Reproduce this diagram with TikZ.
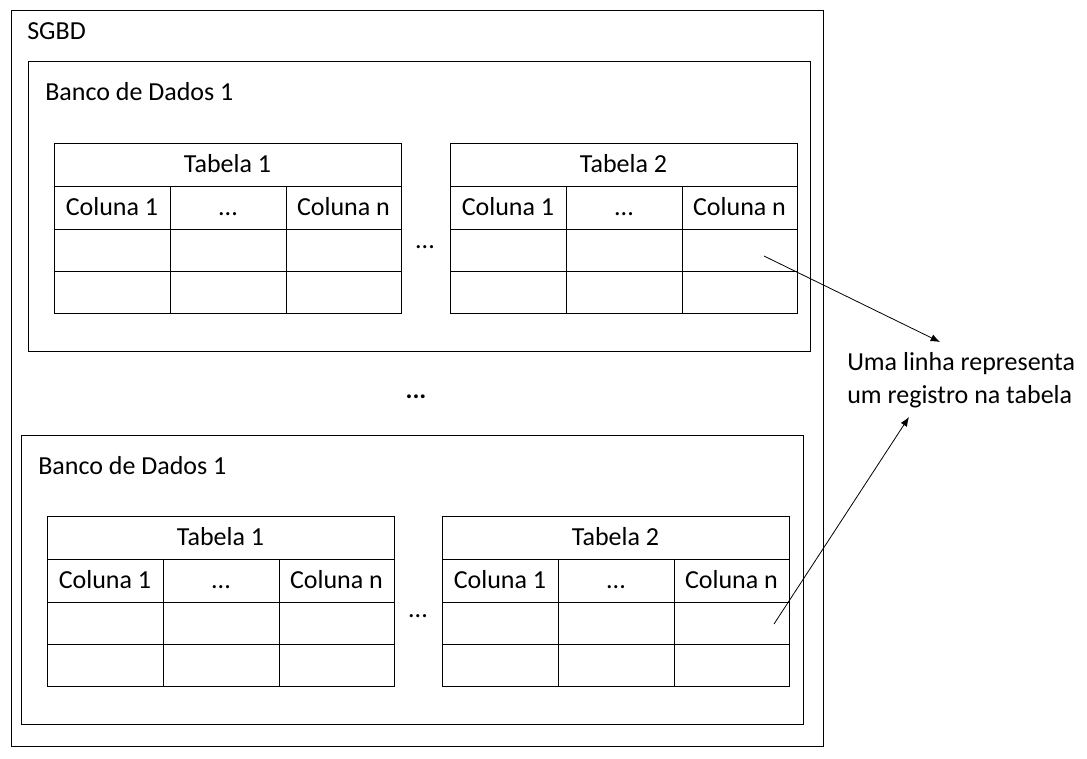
\documentclass[tikz,border=0pt]{standalone}
\usepackage{fontspec}
\setmainfont{Carlito}
\usetikzlibrary{arrows.meta}

\tikzset{
  box/.style={draw, line width=0.75pt},
  label/.style={anchor=west, inner sep=0pt},
  cell/.style={inner sep=0pt, text height=12.5pt, text depth=0pt},
  gap/.style={inner sep=0pt, anchor=base},
  pointer/.style={-{Latex[length=7pt,width=5.5pt]}, line width=0.6pt}
}

% one table: x, y (top left), name, title
\newcommand{\tabela}[4]{%
  \begin{scope}[shift={(#1,#2)}]
    \draw[box] (0,0) rectangle (347,170);
    \foreach \yy in {43,86,128} \draw[line width=0.75pt] (0,\yy) -- (347,\yy);
    \foreach \xx in {116,232} \draw[line width=0.75pt] (\xx,43) -- (\xx,170);
    \node[cell] (#3) at (173.5,21.5) {#4};
    \node[cell] (#3c1) at (58,64.5) {Coluna 1};
    \node[cell] (#3c2) at (174,64.5) {...};
    \node[cell] (#3cn) at (289.5,64.5) {Coluna n};
  \end{scope}}

\begin{document}
\begin{tikzpicture}[x=0.75pt, y=-0.75pt, font=\fontsize{19.5}{24.75}\selectfont]
    \useasboundingbox (0,0) rectangle (1087,758);

    % SGBD and the two databases
    \draw[box] (11,10) rectangle (823,746);
    \node[label] (sgbd) at (27,31) {SGBD};
    \draw[box] (28,61) rectangle (810,351);
    \node[label] (bd1) at (45,92) {Banco de Dados 1};
    \draw[box] (21,435) rectangle (803,724);
    \node[label] (bd2) at (38,466) {Banco de Dados 1};

    % tables
    \tabela{54}{143}{ta}{Tabela 1}
    \tabela{450}{143}{tb}{Tabela 2}
    \tabela{47}{516}{tc}{Tabela 1}
    \tabela{442}{516}{td}{Tabela 2}

    \node[gap] (dots1) at (425,248) {...};
    \node[gap] (dots2) at (418,617) {...};
    \node[gap, font=\fontsize{19.5}{24.75}\selectfont\bfseries] (dots) at (416,398) {...};

    % note and pointers
    \node[label, align=left] (note) at (847,380) {Uma linha representa\\um registro na tabela};
    \coordinate (rowA) at (764,256);
    \coordinate (tipA) at (940,342);
    \coordinate (rowB) at (774,624);
    \coordinate (tipB) at (909,417);
    \draw[pointer] (rowA) -- (tipA);
    \draw[pointer] (rowB) -- (tipB);
\end{tikzpicture}
\end{document}
